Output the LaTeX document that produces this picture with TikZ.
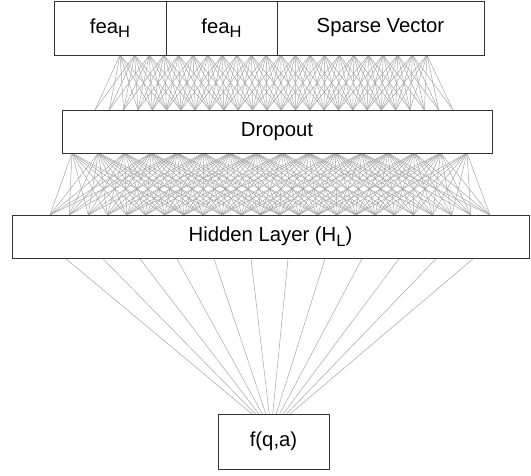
\documentclass[tikz,border=0pt]{standalone}
\usepackage{fontspec}
\setmainfont{Liberation Sans}
\begin{document}
\begin{tikzpicture}[x=1pt,y=-1pt,
  box/.style={draw=black!80,line width=1pt,fill=white,inner sep=0pt,
    font=\fontsize{20.3}{24}\selectfont},
  conn/.style={draw=black!35,line width=0.5pt}]
\useasboundingbox (0,0) rectangle (531,475);
\newcommand{\subH}[1]{\raisebox{-4.5pt}{\fontsize{16.5}{16.5}\selectfont #1}}
% connection points
\foreach \i in {0,...,21}{\coordinate (t\i) at ({120+\i*307/21},55);}
\foreach \j in {0,...,25}{\coordinate (d\j) at ({95+\j*358/25},110);}
\foreach \i in {0,...,15}{\coordinate (e\i) at ({72+\i*395/15},153);}
\foreach \j in {0,...,23}{\coordinate (h\j) at ({50+\j*440/23},215);}
\foreach \i in {0,...,11}{\coordinate (g\i) at ({65+\i*409/11},258);}
\foreach \j in {0,...,11}{\coordinate (f\j) at ({252+\j*38/11},414);}
% connectors
\foreach \i in {0,...,21}{\foreach \j in {0,...,25}{
  \pgfmathsetmacro\dx{abs(120+\i*307/21-95-\j*358/25)}
  \ifdim\dx pt<48pt \draw[conn] (t\i) -- (d\j);\fi}}
\foreach \i in {0,...,15}{\foreach \j in {0,...,23}{
  \pgfmathsetmacro\dx{abs(72+\i*395/15-50-\j*440/23)}
  \ifdim\dx pt<130pt \draw[conn] (e\i) -- (h\j);\fi}}
\foreach \i in {0,...,11}{\draw[conn] (g\i) -- (f\i);}
% boxes
\node[box,minimum width=112pt,minimum height=54pt] (fea1) at (110,28) {fea\subH{H}};
\node[box,minimum width=111pt,minimum height=54pt] (fea2) at (221.5,28) {fea\subH{H}};
\node[box,minimum width=207pt,minimum height=54pt] (sparse) at (380.5,28) {Sparse Vector};
\node[box,minimum width=430pt,minimum height=43pt] (drop) at (277,131.5) {Dropout};
\node[box,minimum width=517pt,minimum height=43pt] (hidden) at (270.5,236.5) {Hidden Layer (H\subH{L})};
\node[box,minimum width=111pt,minimum height=55pt] (fqa) at (273.5,441.5) {f(q,a)};
\end{tikzpicture}
\end{document}
